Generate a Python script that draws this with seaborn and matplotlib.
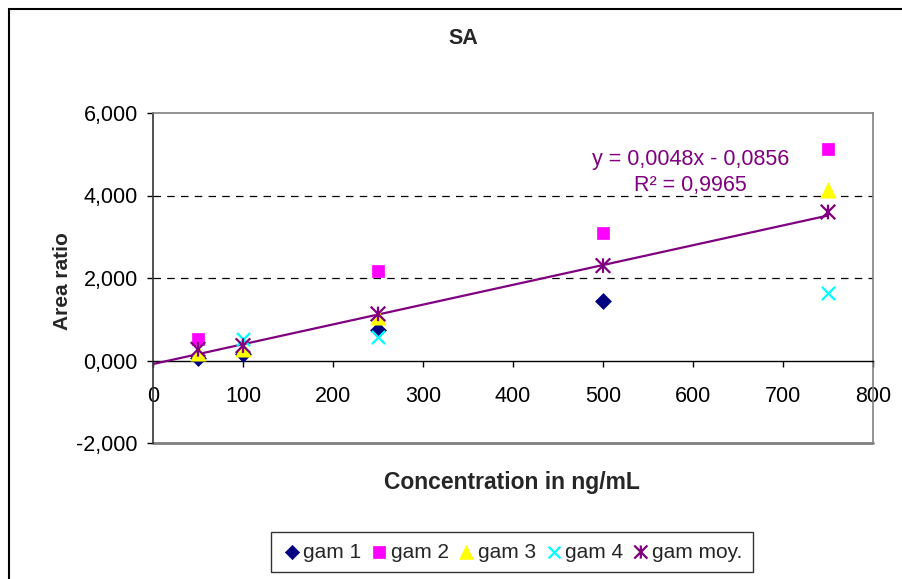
import numpy as np
import pandas as pd
import matplotlib
matplotlib.use("Agg")
import matplotlib.pyplot as plt
from matplotlib.path import Path
from matplotlib.patches import Rectangle
from matplotlib.ticker import FuncFormatter
import seaborn as sns

# ---- data ----
concentration = [50, 100, 250, 500, 750]
gam1 = [0.05, 0.15, 0.73, 1.44, np.nan]
gam2 = [0.52, np.nan, 2.18, 3.10, 5.12]
gam3 = [0.17, 0.27, 1.05, np.nan, 4.13]
gam4 = [np.nan, 0.51, 0.57, np.nan, 1.63]
gam_moy = [0.27, 0.36, 1.13, 2.30, 3.60]
series_names = ["gam 1", "gam 2", "gam 3", "gam 4", "gam moy."]
slope, intercept, r2 = 0.0048, -0.0856, 0.9965
x_ticks = [0, 100, 200, 300, 400, 500, 600, 700, 800]
y_ticks = [-2, 0, 2, 4, 6]

sns.set_theme(style="white")
plt.rcParams['font.family'] = ['Liberation Sans', 'DejaVu Sans']

fig = plt.figure(figsize=(9.02, 5.79), dpi=100)
ax = fig.add_axes([153/902, 1-443/579, (873-153)/902, (443-113)/579])

asterisk = Path([(-0.5, -0.5), (0.5, 0.5), (-0.5, 0.5), (0.5, -0.5), (0, -0.5), (0, 0.5)],
                [Path.MOVETO, Path.LINETO, Path.MOVETO, Path.LINETO, Path.MOVETO, Path.LINETO])

styles = [
    dict(marker="D", color="#000080", s=65, kind="filled"),
    dict(marker="s", color="#FF00FF", s=80, kind="filled"),
    dict(marker="^", color="#FFFF00", s=120, kind="filled"),
    dict(marker="x", color="#00FFFF", s=90, kind="line"),
    dict(marker=asterisk, color="#800080", s=110, kind="path"),
]
values = [gam1, gam2, gam3, gam4, gam_moy]

# trendline from fitted coefficients
xl = np.array([0, max(concentration)])
ax.plot(xl, slope * xl + intercept, color="#800080", lw=1.6, zorder=3)

for name, vals, st in zip(series_names, values, styles):
    df = pd.DataFrame({"x": concentration, "y": vals}).dropna()
    if st["kind"] == "filled":
        sns.scatterplot(data=df, x="x", y="y", ax=ax, marker=st["marker"], s=st["s"],
                        color=st["color"], edgecolor=st["color"], linewidth=0.5,
                        label=name, zorder=4)
    elif st["kind"] == "line":
        sns.scatterplot(data=df, x="x", y="y", ax=ax, marker=st["marker"], s=st["s"],
                        color=st["color"], linewidth=1.6, label=name, zorder=4)
    else:
        sns.scatterplot(data=df, x="x", y="y", ax=ax, marker=st["marker"], s=st["s"],
                        color=st["color"], edgecolor=st["color"], facecolor="none",
                        linewidth=1.6, label=name, zorder=4)

ax.set_xlim(0, 800)
ax.set_ylim(-2, 6)
ax.set_xticks(x_ticks)
ax.set_yticks(y_ticks)
ax.yaxis.set_major_formatter(FuncFormatter(lambda v, p: f"{v:.3f}".replace(".", ",")))
ax.xaxis.set_major_formatter(FuncFormatter(lambda v, p: f"{int(v)}"))

for yv in [2, 4]:
    ax.axhline(yv, color="black", lw=0.9, ls=(0, (6, 5)), zorder=1)

ax.spines["bottom"].set_position(("data", 0))
ax.spines["bottom"].set_color("black")
ax.spines["bottom"].set_linewidth(1.0)
ax.spines["left"].set_color("#333333")
ax.spines["left"].set_linewidth(1.2)
for s in ["top", "right"]:
    ax.spines[s].set_color("#808080")
    ax.spines[s].set_linewidth(1.2)
ax.axhline(-2, color="#808080", lw=2.0, clip_on=False, zorder=0)

ax.tick_params(axis="x", direction="out", length=4, width=1, pad=14, labelsize=15.5, colors="black")
ax.tick_params(axis="y", direction="out", length=4, width=1, pad=7, labelsize=15.5, colors="black")
ax.tick_params(bottom=True, left=True)
ax.set_xlabel("")
ax.set_ylabel("")

ax.text(597, 4.88, "y = 0,0048x - 0,0856", color="#800080", fontsize=15.5, ha="center", va="center")
ax.text(597, 4.25, f"R² = {r2:.4f}".replace(".", ","), color="#800080", fontsize=15.5,
        ha="center", va="center")

fig.text(463/902, 1-39/579, "SA", ha="center", va="center", fontsize=15.5, fontweight="bold")
fig.text(62/902, 1-281/579, "Area ratio", ha="center", va="center", rotation=90,
         fontsize=15, fontweight="bold")
fig.text(512/902, 1-483/579, "Concentration in ng/mL", ha="center", va="center",
         fontsize=16.5, fontweight="bold")

ax.get_legend().remove()
handles, labels = ax.get_legend_handles_labels()
leg = fig.legend(handles, labels, loc="center", bbox_to_anchor=(512/902, 1-552/579), ncol=5,
                 fontsize=15, frameon=True, fancybox=False, edgecolor="black",
                 handletextpad=0.05, columnspacing=0.35, handlelength=1.0, borderpad=0.5,
                 borderaxespad=0, markerscale=0.9)
leg.get_frame().set_linewidth(1.0)

fig.patches.append(Rectangle((9/902, -0.2), 1.2, 0.2 + 1 - 9/579, transform=fig.transFigure,
                             fill=False, edgecolor="black", lw=1.5))

fig.savefig("out.png", dpi=100)
